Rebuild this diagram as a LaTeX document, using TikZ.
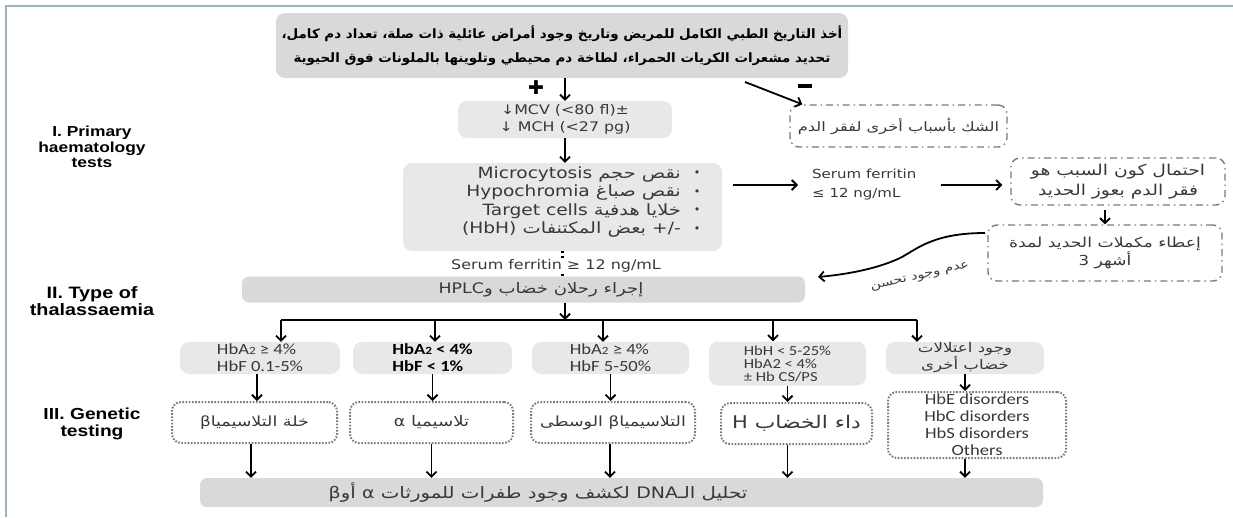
\documentclass[tikz,border=0pt]{standalone}
\usepackage{fontspec}
\setmainfont{DejaVu Sans}
\newfontfamily\arfont[Script=Arabic,FakeStretch=1.25]{DejaVu Sans}
\newfontfamily\artopfont[Script=Arabic,FakeStretch=1.04]{DejaVu Sans}
\newfontfamily\dvfont[FakeStretch=1.2]{DejaVu Sans}
\newfontfamily\plainfont{DejaVu Sans}
\newfontfamily\labfont[FakeStretch=1.2]{Liberation Sans}
\newfontfamily\calfont[FakeStretch=1.2]{Carlito}
\TeXXeTstate=1
\usetikzlibrary{arrows.meta,calc}
\newcommand\ArR[1]{{\beginR#1\endR}}
\newcommand\LaT[1]{\beginL{\dvfont#1}\endL}
\definecolor{framec}{HTML}{9DB2CD}
\definecolor{boxA}{HTML}{D9D9D9}
\definecolor{boxB}{HTML}{E8E8E8}
\definecolor{brd}{HTML}{7A7A7A}
\definecolor{txt}{HTML}{383838}
\begin{document}
\begin{tikzpicture}[x=1pt,y=-1pt,
  gboxA/.style={fill=boxA,draw=none,rounded corners=9pt,inner sep=0pt},
  gboxB/.style={fill=boxB,draw=none,rounded corners=9pt,inner sep=0pt},
  ddbox/.style={draw=brd,line width=1.4pt,dash pattern=on 7pt off 4pt on 1.5pt off 4pt,rounded corners=9pt,inner sep=0pt,text=txt},
  dotbox/.style={draw=brd,line width=2pt,dash pattern=on 1.6pt off 1.6pt,rounded corners=9pt,inner sep=0pt,text=txt},
  arr/.style={draw=black,line width=1.8pt,-{Straight Barb[length=5pt,width=10pt]}},
  plainline/.style={draw=black,line width=1.8pt},
  dotline/.style={draw=black,line width=2.2pt,dash pattern=on 2pt off 3pt},
  sidelabel/.style={align=center,inner sep=0pt},
  colbox/.style={gboxB,font=\calfont\fontsize{15.5}{17}\selectfont,text=txt,align=left},
  artext/.style={inner sep=0pt,text=txt}
]
\useasboundingbox (0,0) rectangle (1233,517);
% frame
\draw[framec,line width=1.6pt] (6,517) -- (6,6) -- (1233,6);

% side labels
\node[sidelabel,font=\labfont\bfseries\fontsize{14.5}{15.5}\selectfont] (lab1) at (92,147) {I. Primary\\haematology\\tests};
\node[sidelabel,font=\labfont\bfseries\fontsize{16.5}{17.5}\selectfont] (lab2) at (92,301) {II. Type of\\thalassaemia};
\node[sidelabel,font=\labfont\bfseries\fontsize{16}{17}\selectfont] (lab3) at (92,424) {III. Genetic\\testing};

% top box
\node[gboxA,minimum width=572pt,minimum height=65pt,align=center,
  font=\artopfont\bfseries\fontsize{12.9}{24}\selectfont] (top) at (562,45.5)
  {\ArR{أخذ التاريخ الطبي الكامل للمريض وتاريخ وجود أمراض عائلية ذات صلة، تعداد دم كامل،}\\
   \ArR{تحديد مشعرات الكريات الحمراء، لطاخة دم محيطي وتلوينها بالملونات فوق الحيوية}};

% plus / minus
\node[inner sep=0pt,font=\plainfont\fontsize{19}{19}\selectfont] (plus) at (536,88) {✚};
\node[fill=black,minimum width=14pt,minimum height=3.5pt,inner sep=0pt] (minus) at (805,86) {};

% MCV box
\node[gboxB,minimum width=214pt,minimum height=37pt,align=center,
  font=\dvfont\fontsize{13.2}{17}\selectfont,text=txt] (mcv) at (565,119.5)
  {↓MCV (<80 fl)±\\↓ MCH (<27 pg)};
\draw[arr] (mcv.north |- top.south) -- (mcv.north);

% doubt box
\node[ddbox,minimum width=217pt,minimum height=42pt,font=\arfont\fontsize{13}{16}\selectfont] (doubt) at (898.5,126)
  {\ArR{الشك بأسباب أخرى لفقر الدم}};
\coordinate (mstart) at (745,82);
\draw[arr] (mstart) -- ([xshift=13pt]doubt.north west);

% bullets box
\node[gboxB,minimum width=319pt,minimum height=88pt] (bul) at (562.5,207) {};
\draw[arr] (mcv.south) -- (mcv.south |- bul.north);
\foreach \i/\t in {0/{\ArR{نقص حجم \LaT{Microcytosis}}},
                   1/{\ArR{نقص صباغ \LaT{Hypochromia}}},
                   2/{\ArR{خلايا هدفية \LaT{Target cells}}},
                   3/{\ArR{\LaT{+/-} بعض المكتنفات \LaT{(HbH)}}}} {
  \node[artext,anchor=east,font=\arfont\fontsize{15.5}{17}\selectfont] (bt\i) at (681,174+18.5*\i) {\t};
  \node[artext,font=\plainfont\fontsize{11}{12}\selectfont] (bd\i) at (697,174+18.5*\i) {•};
}

% serum ferritin <= 12
\node[inner sep=0pt,anchor=west,align=left,font=\dvfont\fontsize{12.5}{19}\selectfont,text=txt] (sf) at (812,185)
  {Serum ferritin\\≤ 12 ng/mL};
\draw[arr] ([xshift=11pt]bul.east |- sf.west) -- ([xshift=-14pt]sf.west);

% likely iron deficiency
\node[ddbox,minimum width=214pt,minimum height=47pt,align=center,font=\arfont\fontsize{15}{19.5}\selectfont] (likely) at (1118,181.5)
  {\ArR{احتمال كون السبب هو}\\\ArR{فقر الدم بعوز الحديد}};
\draw[arr] ([xshift=24pt]sf.east) -- ([xshift=-8pt]likely.west |- sf.east);

% give iron
\node[ddbox,minimum width=234pt,minimum height=56pt,align=center,font=\arfont\fontsize{13.8}{18}\selectfont] (give) at (1105,253)
  {\ArR{إعطاء مكملات الحديد لمدة}\\\ArR{أشهر \LaT{3}}};
\draw[arr] ([yshift=-4pt]give.north |- likely.south) -- (give.north);

% HPLC bar
\node[gboxA,minimum width=563pt,minimum height=26pt,rounded corners=7pt] (hplc) at (523.5,289.5) {};
\node[artext,font=\arfont\fontsize{14.5}{15}\selectfont] (hplct) at (541,289.5) {\ArR{إجراء رحلان خضاب و\LaT{HPLC}}};

% no improvement curve
\coordinate (cs) at (985,233);
\coordinate (ce) at (818,277);
\draw[arr] (cs) .. controls (935,233) and (918,248) .. (902,257) .. controls (880,268) and (850,274) .. (ce);
\node[artext,rotate=13,font=\arfont\fontsize{11.5}{13}\selectfont] (noimp) at (920,277) {\ArR{عدم وجود تحسن}};

% serum ferritin >= 12
\node[inner sep=1pt,font=\dvfont\fontsize{13.3}{14}\selectfont,text=txt] (sf2) at (556,266) {Serum ferritin ≥ 12 ng/mL};
\draw[dotline] (bul.south) -- (bul.south |- sf2.north);
\draw[dotline] (bul.south |- sf2.south) -- (bul.south |- hplc.north);

% distribution line
\coordinate (hl1) at (281,320);
\coordinate (hl5) at (917,320);
\draw[plainline] (hl1) -- (hl5);
\draw[arr] (hplc.south -| mcv.south) -- (hl1 -| mcv.south);

% column boxes
\node[colbox,minimum width=160pt,minimum height=32pt] (c1) at (260,358) {HbA{\fontsize{11}{11}\selectfont 2} ≥ 4\%\\HbF 0.1-5\%};
\node[colbox,minimum width=159pt,minimum height=32pt,font=\calfont\bfseries\fontsize{15.5}{17}\selectfont,text=black] (c2) at (432.5,358) {HbA{\fontsize{11}{11}\selectfont 2} < 4\%\\HbF < 1\%};
\node[colbox,minimum width=157pt,minimum height=32pt] (c3) at (610.5,358) {HbA{\fontsize{11}{11}\selectfont 2} ≥ 4\%\\HbF 5-50\%};
\node[colbox,minimum width=157pt,minimum height=44pt,font=\calfont\fontsize{13.8}{13}\selectfont] (c4) at (787.5,363.5) {HbH < 5-25\%\\HbA2 < 4\%\\± Hb CS/PS};
\node[gboxB,minimum width=158pt,minimum height=32pt,align=center,text=txt,font=\arfont\fontsize{13.3}{17}\selectfont] (c5) at (965,358) {\ArR{وجود اعتلالات}\\\ArR{خضاب أخرى}};

\coordinate (a2) at (435,320);
\coordinate (a3) at (603,320);
\coordinate (a4) at (773,320);
\draw[arr] (hl1) -- (hl1 |- c1.north);
\draw[arr] (a2) -- (a2 |- c2.north);
\draw[arr] (a3) -- (a3 |- c3.north);
\draw[arr] (a4) -- (a4 |- c4.north);
\draw[arr] (hl5) -- (hl5 |- c5.north);

% dotted boxes
\node[dotbox,minimum width=165pt,minimum height=41pt,font=\arfont\fontsize{14}{16}\selectfont] (d1) at (254.5,422.5) {\ArR{خلة التلاسيميا\LaT{β}}};
\node[dotbox,minimum width=163pt,minimum height=41pt,font=\arfont\fontsize{14.5}{16}\selectfont] (d2) at (431.5,422.5) {\ArR{تلاسيميا \LaT{α}}};
\node[dotbox,minimum width=164pt,minimum height=41pt,font=\arfont\fontsize{14}{16}\selectfont] (d3) at (613,422.5) {\ArR{التلاسيميا\LaT{β} الوسطى}};
\node[dotbox,minimum width=151pt,minimum height=41pt,font=\arfont\fontsize{17.5}{19}\selectfont] (d4) at (796.5,423.5) {\ArR{داء الخضاب \LaT{H}}};
\node[dotbox,minimum width=178pt,minimum height=66pt,align=center,font=\calfont\fontsize{15.5}{17}\selectfont] (d5) at (977,425)
  {HbE disorders\\HbC disorders\\HbS disorders\\Others};

\draw[arr] (c1.south -| 257,0) -- (257,0 |- d1.north);
\draw[arr] (c2.south) -- (c2.south |- d2.north);
\draw[arr] (c3.south) -- (c3.south |- d3.north);
\draw[arr] (c4.south) -- (c4.south |- d4.north);
\draw[arr] (c5.south) -- (c5.south |- d5.north);

% bottom bar
\node[gboxA,minimum width=843pt,minimum height=29pt,rounded corners=7pt] (dna) at (621.5,492.5) {};
\node[artext,font=\arfont\fontsize{15.8}{17}\selectfont] (dnat) at (538,493)
  {\ArR{تحليل الـ\LaT{DNA} لكشف وجود طفرات للمورثات \LaT{α} أو\LaT{β}}};

\draw[arr] (d1.south -| 251,0) -- (251,0 |- dna.north);
\draw[arr] (d2.south) -- (d2.south |- dna.north);
\draw[arr] ([xshift=-3pt]d3.south) -- ([xshift=-3pt]d3.south |- dna.north);
\draw[arr] (c4.south |- d4.south) -- (c4.south |- dna.north);
\draw[arr] (c5.south |- d5.south) -- (c5.south |- dna.north);
\end{tikzpicture}
\end{document}
